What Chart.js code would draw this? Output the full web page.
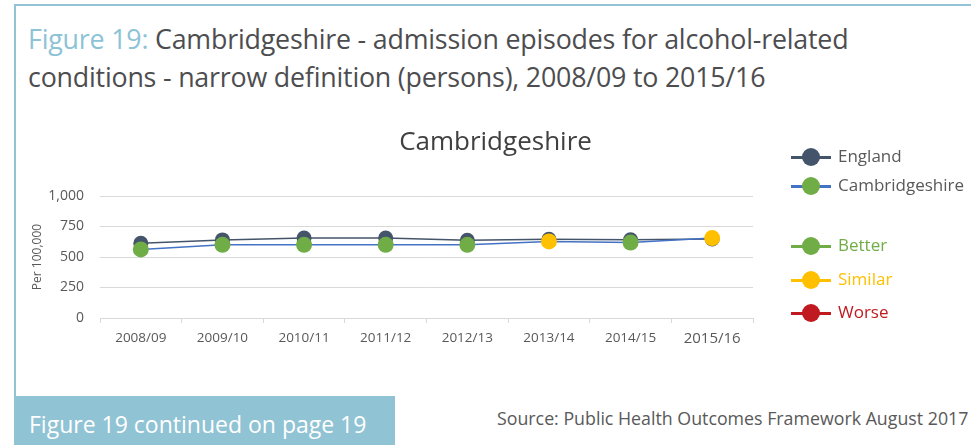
<!DOCTYPE html>
<html>
<head>
<meta charset="utf-8">
<script src="https://cdn.jsdelivr.net/npm/chart.js@4.4.1/dist/chart.umd.min.js"></script>
<style>
  html, body { margin: 0; padding: 0; background: #fff; }
  body { width: 971px; height: 445px; position: relative; overflow: hidden; font-family: "Open Sans", sans-serif; }
  .frame-top { position: absolute; left: 14px; top: 4px; width: 957px; height: 2px; background: #93c4d5; }
  .frame-left { position: absolute; left: 14px; top: 4px; width: 2px; height: 394px; background: #93c4d5; }
  .heading { position: absolute; left: 28px; top: 20px; font-size: 26.8px; line-height: 38px; color: #4d4d4f; letter-spacing: -0.2px; }
  .heading .fig { color: #8cc3d6; }
  .chart-wrap { position: absolute; left: 20px; top: 118px; width: 951px; height: 237px; }
  .legend { position: absolute; left: 791px; top: 0; }
  .legend .item { position: absolute; left: 0; height: 20px; width: 200px; }
  .legend .line { position: absolute; left: 0; top: 9px; width: 40px; height: 3px; }
  .legend .dot { position: absolute; left: 11px; top: 1px; width: 18px; height: 18px; border-radius: 50%; }
  .legend .label { position: absolute; left: 47px; top: -2px; font-size: 17px; line-height: 22px; white-space: nowrap; }
  .note { position: absolute; left: 14px; top: 396px; width: 381px; height: 49px; background: #90c3d4; color: #fff; font-size: 23px; line-height: 56px; }
  .note span { padding-left: 15px; }
  .source { position: absolute; left: 497px; top: 406px; font-size: 17.8px; color: #595959; white-space: nowrap; }
</style>
</head>
<body>
<div class="frame-top"></div>
<div class="frame-left"></div>
<div class="heading"><span class="fig">Figure 19:</span> Cambridgeshire - admission episodes for alcohol-related<br>conditions - narrow definition (persons), 2008/09 to 2015/16</div>

<div class="chart-wrap"><canvas id="chart"></canvas></div>

<div class="legend" id="legend"></div>

<div class="note"><span>Figure 19 continued on page 19</span></div>
<div class="source">Source: Public Health Outcomes Framework August 2017</div>

<script>
// Data
const years = ['2008/09', '2009/10', '2010/11', '2011/12', '2012/13', '2013/14', '2014/15', '2015/16'];
const englandRate = [612, 640, 655, 655, 637, 645, 641, 647];
const cambsRate = [562, 600, 600, 600, 600, 628, 618, 655];
const cambsSignificance = ['better', 'better', 'better', 'better', 'better', 'similar', 'better', 'similar'];
const yTicks = [0, 250, 500, 750, 1000];

const chartTitle = 'Cambridgeshire';

const colours = {
    england: '#44546a',
    cambsLine: '#4472c4',
    better: '#70ad47',
    similar: '#ffc000',
    worse: '#c0191f'
};

const legendItems = [
    { label: 'England', line: colours.england, dot: colours.england, text: '#595959', y: 147 },
    { label: 'Cambridgeshire', line: colours.cambsLine, dot: colours.better, text: '#595959', y: 176 },
    { label: 'Better', line: colours.better, dot: colours.better, text: colours.better, y: 236 },
    { label: 'Similar', line: colours.similar, dot: colours.similar, text: colours.similar, y: 270 },
    { label: 'Worse', line: colours.worse, dot: colours.worse, text: colours.worse, y: 303 }
];

// Excel centres the title over the whole chart object (legend included)
const centredTitle = {
    id: 'centredTitle',
    afterDraw(chart) {
        const c = chart.ctx;
        c.save();
        c.font = '26px "Open Sans"';
        c.fillStyle = '#404040';
        c.textAlign = 'center';
        c.textBaseline = 'middle';
        c.fillText(chartTitle, chart.width / 2, 25);
        c.restore();
    }
};

function buildLegend() {
    const legend = document.getElementById('legend');
    legendItems.forEach(item => {
        const row = document.createElement('div');
        row.className = 'item';
        row.style.top = item.y + 'px';
        row.innerHTML = `
            <div class="line" style="background:${item.line}"></div>
            <div class="dot" style="background:${item.dot}"></div>
            <div class="label" style="color:${item.text}">${item.label}</div>
        `;
        legend.appendChild(row);
    });
}

function initChart() {
    const ctx = document.getElementById('chart').getContext('2d');
    const pointColours = cambsSignificance.map(s => colours[s]);

    new Chart(ctx, {
        type: 'line',
        data: {
            labels: years,
            datasets: [{
                label: 'England',
                data: englandRate,
                order: 1,
                borderColor: colours.england,
                backgroundColor: colours.england,
                borderWidth: 1.5,
                pointRadius: 7.5,
                pointBorderWidth: 0,
                tension: 0
            }, {
                label: 'Cambridgeshire',
                data: cambsRate,
                order: 0,
                borderColor: colours.cambsLine,
                backgroundColor: pointColours,
                pointBackgroundColor: pointColours,
                borderWidth: 1.5,
                pointRadius: 8,
                pointBorderWidth: 0,
                tension: 0
            }]
        },
        plugins: [centredTitle],
        options: {
            responsive: true,
            maintainAspectRatio: false,
            animation: false,
            layout: { padding: { left: 10, right: 218, top: 78 } },
            plugins: {
                legend: { display: false },
                tooltip: { enabled: false },
                title: { display: false }
            },
            scales: {
                x: {
                    offset: true,
                    grid: {
                        offset: true,
                        drawOnChartArea: false,
                        drawTicks: true,
                        tickLength: 5,
                        color: '#d9d9d9'
                    },
                    border: { color: '#d9d9d9', width: 1 },
                    ticks: {
                        color: '#595959',
                        padding: 7,
                        maxRotation: 0,
                        font: c => ({ family: 'Open Sans', size: c.index === 7 ? 15 : 13.5 })
                    }
                },
                y: {
                    min: 0,
                    max: 1000,
                    afterBuildTicks: scale => {
                        scale.ticks = yTicks.map(v => ({ value: v }));
                    },
                    afterFit: scale => { scale.width = 70; },
                    grid: { color: '#d9d9d9', drawTicks: false },
                    border: { display: false },
                    ticks: {
                        color: '#595959',
                        padding: 16,
                        font: { family: 'Open Sans', size: 14 },
                        callback: v => v.toLocaleString('en-GB')
                    },
                    title: {
                        display: true,
                        text: 'Per 100,000',
                        color: '#595959',
                        font: { family: 'Open Sans', size: 12 },
                        padding: 0
                    }
                }
            }
        }
    });
}

document.addEventListener('DOMContentLoaded', () => {
    buildLegend();
    initChart();
});
</script>
</body>
</html>
